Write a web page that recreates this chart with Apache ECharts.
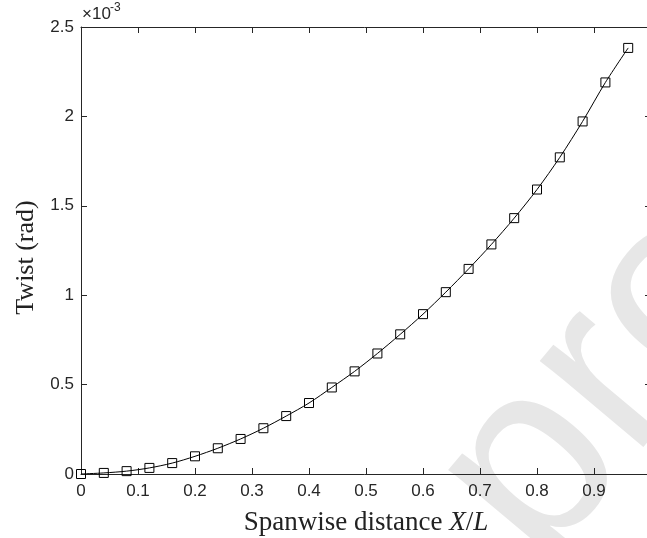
<!DOCTYPE html>
<html>
<head>
  <meta charset="UTF-8">
  <title>Twist vs spanwise distance</title>
  <script src="https://cdn.jsdelivr.net/npm/echarts@6/dist/echarts.min.js"></script>
  <style>
    html, body { margin: 0; padding: 0; background: #fff; }
    #chart { width: 647px; height: 538px; }
  </style>
</head>
<body>
<div id="chart"></div>
<script>
  // spanwise position X/L of each marker
  const spanX = [0, 0.04, 0.08, 0.12, 0.16, 0.2, 0.24, 0.28, 0.32, 0.36, 0.4, 0.44, 0.48,
                 0.52, 0.56, 0.6, 0.64, 0.68, 0.72, 0.76, 0.8, 0.84, 0.88, 0.92, 0.96];
  // twist in units of 1e-3 rad
  const twist = [0, 0.006, 0.016, 0.034, 0.061, 0.099, 0.144, 0.196, 0.256, 0.324, 0.397, 0.484, 0.574,
                 0.674, 0.781, 0.894, 1.017, 1.147, 1.284, 1.431, 1.591, 1.771, 1.972, 2.19, 2.383];
  const xTicks = ['0', '0.1', '0.2', '0.3', '0.4', '0.5', '0.6', '0.7', '0.8', '0.9', '1'];
  const yTicks = ['0', '0.5', '1', '1.5', '2', '2.5'];

  const axisColor = '#262626';
  const tickFont = 'Liberation Sans';
  const nameFont = 'Liberation Serif';

  const chart = echarts.init(document.getElementById('chart'));

  const boxAxis = {
    axisLine: { show: true, onZero: false, lineStyle: { color: axisColor, width: 1 } },
    axisTick: { show: true, inside: true, length: 6, lineStyle: { color: axisColor } },
    axisLabel: { show: false },
    splitLine: { show: false }
  };

  chart.setOption({
    animation: false,
    backgroundColor: '#fff',
    grid: { left: 81, top: 27, right: -4, bottom: 64, outerBoundsMode: 'none', containLabel: false },
    graphic: [
      {
        // watermark, sits behind everything
        type: 'text',
        z: -10,
        x: 487, y: 524,
        rotation: 50 * Math.PI / 180,
        style: {
          text: 'proof',
          font: '255px "Liberation Sans"',
          fill: '#e7e7e7',
          align: 'left',
          verticalAlign: 'middle'
        }
      },
      {
        type: 'text',
        x: 82, y: 6,
        style: { text: '×10', font: '17px "Liberation Sans"', fill: axisColor }
      },
      {
        type: 'text',
        x: 110, y: 2,
        style: { text: '-3', font: '12px "Liberation Sans"', fill: axisColor }
      }
    ],
    xAxis: [
      {
        type: 'value',
        min: 0, max: 1, interval: 0.1,
        position: 'bottom',
        axisLine: { show: true, onZero: false, lineStyle: { color: axisColor, width: 1 } },
        axisTick: { show: true, inside: true, length: 6, lineStyle: { color: axisColor } },
        splitLine: { show: false },
        axisLabel: {
          margin: 9,
          fontFamily: tickFont, fontSize: 17, color: axisColor,
          formatter: (v) => xTicks[Math.round(v * 10)]
        },
        name: '{n|Spanwise distance }{i|X}{n|/}{i|L}',
        nameLocation: 'middle',
        nameGap: 35,
        nameTextStyle: {
          rich: {
            n: { fontFamily: nameFont, fontSize: 27, color: '#222' },
            i: { fontFamily: nameFont, fontSize: 27, fontStyle: 'italic', color: '#222' }
          }
        }
      },
      Object.assign({ type: 'value', min: 0, max: 1, interval: 0.1, position: 'top' }, boxAxis)
    ],
    yAxis: [
      {
        type: 'value',
        min: 0, max: 2.5, interval: 0.5,
        position: 'left',
        axisLine: { show: true, onZero: false, lineStyle: { color: axisColor, width: 1 } },
        axisTick: { show: true, inside: true, length: 6, lineStyle: { color: axisColor } },
        splitLine: { show: false },
        axisLabel: {
          margin: 7,
          fontFamily: tickFont, fontSize: 17, color: axisColor,
          formatter: (v) => yTicks[Math.round(v * 2)]
        },
        name: 'Twist (rad)',
        nameLocation: 'middle',
        nameGap: 42,
        nameTextStyle: { fontFamily: nameFont, fontSize: 26, color: '#222', padding: [0, 14, 0, 0] }
      },
      Object.assign({ type: 'value', min: 0, max: 2.5, interval: 0.5, position: 'right' }, boxAxis)
    ],
    series: [{
      type: 'line',
      data: spanX.map((x, i) => [x, twist[i]]),
      smooth: 0.3,
      symbol: 'rect',
      symbolSize: 9,
      showAllSymbol: true,
      lineStyle: { color: '#000', width: 1 },
      itemStyle: { color: 'rgba(0,0,0,0)', borderColor: '#000', borderWidth: 1 },
      emphasis: { disabled: true },
      z: 5
    }]
  });
</script>
</body>
</html>
